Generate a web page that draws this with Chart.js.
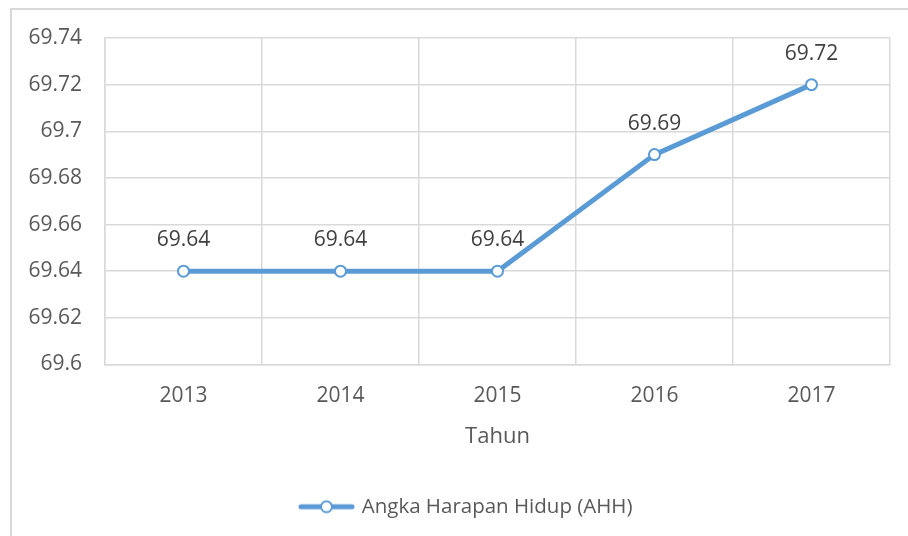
<!DOCTYPE html>
<html>
<head>
<meta charset="utf-8">
<script src="https://cdn.jsdelivr.net/npm/chart.js@4"></script>
<style>
  html, body { margin: 0; padding: 0; background: #fff; overflow: hidden; }
  #wrap { width: 908px; height: 536px; }
</style>
</head>
<body>
<div id="wrap"><canvas id="chart" width="908" height="536"></canvas></div>
<script>
// ===== DATA =====
const years = ["2013", "2014", "2015", "2016", "2017"];
const ahhValues = [69.64, 69.64, 69.64, 69.69, 69.72];
const yTicks = [69.6, 69.62, 69.64, 69.66, 69.68, 69.7, 69.72, 69.74];
const seriesName = "Angka Harapan Hidup (AHH)";
const axisTitle = "Tahun";

const BLUE = "#5B9BD5";
const GRID = "#d9d9d9";
const FONT = "'Open Sans', 'Noto Sans', sans-serif";

// legend symbol: line with an open circle
const legendIcon = document.createElement("canvas");
legendIcon.width = 57;
legendIcon.height = 16;
(function () {
  const c = legendIcon.getContext("2d");
  c.strokeStyle = BLUE;
  c.lineWidth = 5;
  c.lineCap = "round";
  c.beginPath();
  c.moveTo(3, 8);
  c.lineTo(54, 8);
  c.stroke();
  c.beginPath();
  c.arc(28.5, 8, 5.5, 0, Math.PI * 2);
  c.fillStyle = "#fff";
  c.fill();
  c.lineWidth = 2;
  c.stroke();
})();

// outer frame of the chart box
const framePlugin = {
  id: "frame",
  afterLayout(chart) {
    // legend sits a bit right of the canvas centre, like the original
    chart.legend.left += 12;
    chart.legend.right += 12;
  },
  beforeDraw(chart) {
    const ctx = chart.ctx;
    ctx.save();
    ctx.fillStyle = "#fff";
    ctx.fillRect(0, 0, chart.width, chart.height);
    ctx.strokeStyle = GRID;
    ctx.lineWidth = 2;
    ctx.strokeRect(11, 9, 2000, 2000);
    ctx.restore();
  }
};

// value labels above points
const valueLabels = {
  id: "valueLabels",
  afterDatasetsDraw(chart) {
    const ctx = chart.ctx;
    const meta = chart.getDatasetMeta(0);
    ctx.save();
    ctx.font = "21px " + FONT;
    ctx.fillStyle = "#404040";
    ctx.textAlign = "center";
    ctx.textBaseline = "middle";
    meta.data.forEach((pt, i) => {
      ctx.fillText(ahhValues[i].toFixed(2), pt.x, pt.y - 31);
    });
    ctx.restore();
  }
};

new Chart(document.getElementById("chart"), {
  type: "line",
  data: {
    labels: years,
    datasets: [{
      label: seriesName,
      data: ahhValues,
      borderColor: BLUE,
      borderWidth: 5,
      backgroundColor: "#fff",
      pointRadius: 5.5,
      pointBorderWidth: 2,
      pointBorderColor: BLUE,
      pointBackgroundColor: "#fff",
      tension: 0
    }]
  },
  options: {
    responsive: false,
    animation: false,
    layout: { padding: { left: 20, right: 18, top: 38, bottom: 9 } },
    scales: {
      x: {
        offset: true,
        grid: { offset: true, color: GRID, lineWidth: 1.5, drawTicks: false },
        border: { color: GRID, width: 1.5 },
        ticks: { color: "#595959", font: { family: FONT, size: 21 }, padding: 19 },
        title: {
          display: true,
          text: axisTitle,
          color: "#595959",
          font: { family: FONT, size: 22 },
          padding: { top: 0, bottom: 37 }
        },
        afterFit(scale) { scale.height = 122; }
      },
      y: {
        min: 69.6,
        max: 69.74,
        grid: { color: GRID, lineWidth: 1.5, drawTicks: false },
        border: { color: GRID, width: 1.5 },
        ticks: {
          color: "#595959",
          font: { family: FONT, size: 21 },
          padding: 23,
          callback: v => String(Number(v.toFixed(2)))
        },
        afterBuildTicks(scale) { scale.ticks = yTicks.map(v => ({ value: v })); },
        afterFit(scale) { scale.width = 85; }
      }
    },
    plugins: {
      legend: {
        position: "bottom",
        labels: {
          color: "#595959",
          font: { family: FONT, size: 20.5 },
          padding: 10,
          usePointStyle: true,
          pointStyleWidth: 50,
          generateLabels() {
            return [{ text: seriesName, pointStyle: legendIcon, fillStyle: "#fff", strokeStyle: BLUE, lineWidth: 0, datasetIndex: 0, fontColor: "#595959" }];
          }
        }
      },
      tooltip: { enabled: false }
    }
  },
  plugins: [framePlugin, valueLabels]
});
</script>
</body>
</html>
